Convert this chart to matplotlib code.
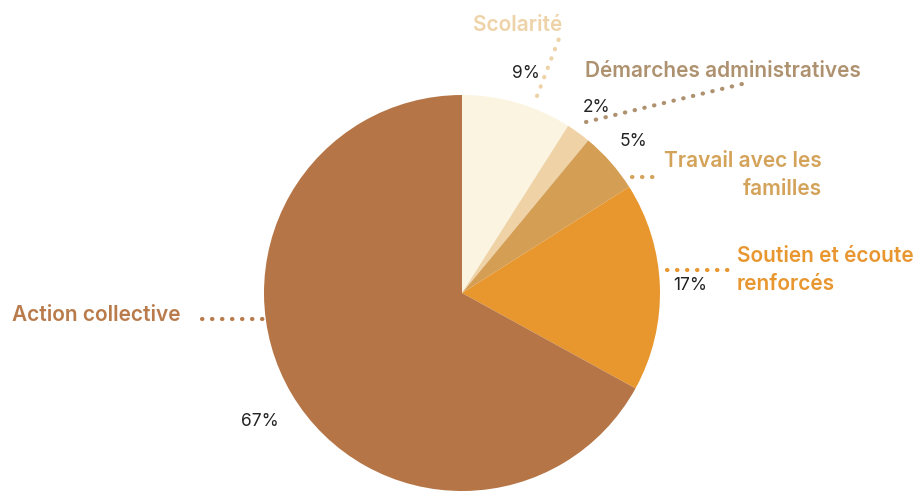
import matplotlib.pyplot as plt

# données
categories = ["Scolarité", "Démarches administratives", "Travail avec les\nfamilles",
              "Soutien et écoute\nrenforcés", "Action collective"]
values = [9, 2, 5, 17, 67]
slice_colors = ["#FBF4E0", "#EFD3A7", "#D49F55", "#E8972F", "#B57546"]
label_colors = ["#EED3A8", "#AE9270", "#D4A35A", "#E8962F", "#B97B4B"]

W, H = 922, 492
CX, CY, R = 462, H - 293, 198

# positions des étiquettes (pixels, origine en haut à gauche) et des pointillés
label_pos = [(518, 25, "center"), (585, 71, "left"), (822, 175, "right"),
             (737, 270, "left"), (12, 315, "left")]
leaders = [((537, 96), (560, 36)), ((586, 122), (742, 84)), ((632, 177), (660, 177)),
           ((667, 270), (732, 270)), ((202, 319), (263, 319))]

plt.rcParams['font.family'] = ['Inter', 'DejaVu Sans']

fig = plt.figure(figsize=(W / 100, H / 100), dpi=100)
ax = fig.add_axes([0, 0, 1, 1])

wedges, texts, autotexts = ax.pie(
    values, colors=slice_colors, startangle=90, counterclock=False,
    center=(CX, CY), radius=R, autopct='%d%%', pctdistance=1.155,
    wedgeprops=dict(linewidth=0),
    textprops=dict(fontsize=12.5, color='#222222'), frame=True)
ax.set_xlim(0, W)
ax.set_ylim(0, H)
ax.set_aspect('equal')
ax.axis('off')
autotexts[-1].set_position((260, H - 422))

for (x, y, ha), txt, col in zip(label_pos, categories, label_colors):
    ax.text(x, H - y, txt, ha=ha, va='center', fontsize=15, fontweight='semibold',
            color=col, linespacing=1.55)

for (p0, p1), col in zip(leaders, label_colors):
    ax.plot([p0[0], p1[0]], [H - p0[1], H - p1[1]], color=col, linewidth=3,
            linestyle=(0, (0.1, 2.3)), dash_capstyle='round', solid_capstyle='round')

fig.savefig("out.png", dpi=100, facecolor='white')
